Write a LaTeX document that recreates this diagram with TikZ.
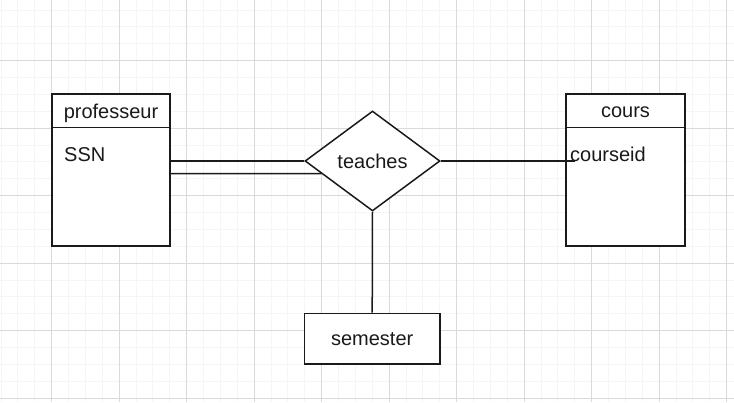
\documentclass[tikz,border=0pt]{standalone}
\usepackage{fontspec}
\setmainfont{Liberation Sans}
\usetikzlibrary{shapes.geometric,calc}
\definecolor{gridmajor}{HTML}{DADADA}
\definecolor{gridminor}{HTML}{F5F5F5}
\definecolor{ink}{HTML}{1A1A1A}
\begin{document}
\begin{tikzpicture}[x=1pt,y=-1pt,
  shapeline/.style={draw=ink,line width=1.5pt},
  entity/.style={shapeline,fill=white,inner sep=0pt},
  rel/.style={shapeline,fill=white,diamond,inner sep=0pt,minimum width=135pt,minimum height=100pt},
  conn/.style={draw=ink,line width=1.5pt},
  lbl/.style={inner sep=0pt,font=\fontsize{20}{24}\selectfont,text=ink}]
\useasboundingbox (0,0) rectangle (734,402);
\fill[white] (0,0) rectangle (734,402);
% grid
\foreach \i in {-3,...,41} {\draw[gridminor,line width=1pt] ({51.7+\i*16.875},0) -- ({51.7+\i*16.875},402);}
\foreach \i in {-3,...,20} {\draw[gridminor,line width=1pt] (0,{60.7+\i*16.875}) -- (734,{60.7+\i*16.875});}
\foreach \i in {-1,...,10} {\draw[gridmajor,line width=0.9pt] ({51.7+\i*67.5},0) -- ({51.7+\i*67.5},402);}
\foreach \i in {0,...,5} {\draw[gridmajor,line width=0.9pt] (0,{60.7+\i*67.5}) -- (734,{60.7+\i*67.5});}
% entities
\node[entity,minimum width=118pt,minimum height=152pt] (prof) at (111,170) {};
\draw[shapeline] ($(prof.north west)+(0,34)$) -- ($(prof.north east)+(0,34)$);
\node[lbl,anchor=base] (profname) at (111,118.3) {professeur};
\node[lbl,anchor=base west] (ssn) at (64,161) {SSN};

\node[entity,minimum width=119pt,minimum height=152pt] (cours) at (625.5,170) {};
\draw[shapeline] ($(cours.north west)+(0,34)$) -- ($(cours.north east)+(0,34)$);
\node[lbl,anchor=base] (coursname) at (625.5,117.5) {cours};
\node[lbl,anchor=base west] (cid) at (570,161) {courseid};

\node[entity,minimum width=135.7pt,minimum height=50.7pt] (sem) at (372.2,338.7) {};
\node[lbl,anchor=base] (semname) at (372.2,345.7) {semester};

\node[rel] (teaches) at (372.5,161) {};
\node[lbl,anchor=base] (tname) at (372.5,168.5) {teaches};

% connectors
\coordinate (cend) at (575,161);
\draw[conn] ([yshift=9pt]prof.east) -- (teaches.west);
\draw[conn] ([yshift=-3.5pt,xshift=-1.5pt]prof.east) -- ($(teaches.west)!0.25!(teaches.south)$);
\draw[conn] (teaches.east) -- (cend);
\draw[conn] (teaches.south) -- (sem.north);
\end{tikzpicture}
\end{document}
